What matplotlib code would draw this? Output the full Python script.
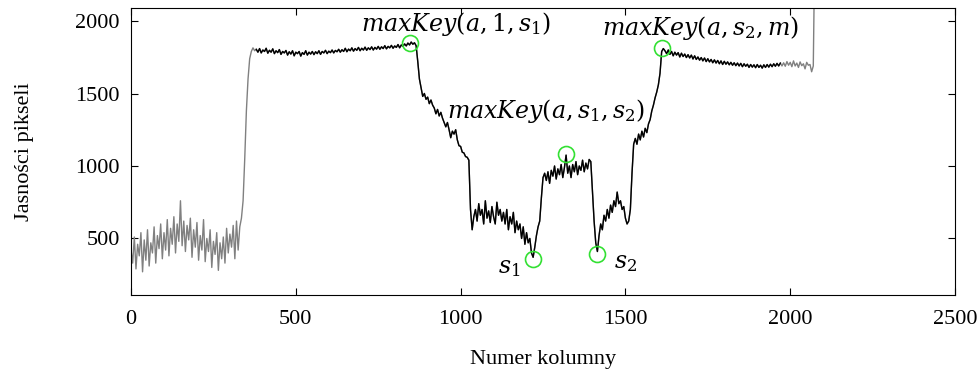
import numpy as np
import matplotlib
matplotlib.use("Agg")
import matplotlib.pyplot as plt

plt.rcParams['font.family'] = ['Liberation Serif', 'DejaVu Serif']
plt.rcParams['mathtext.fontset'] = 'dejavuserif'

# jasnosc pikseli co 5 kolumn (odcinkami)
krok = 5

tlo_lewe = [  # od kolumny 0
    420, 330, 510, 290, 460, 380, 540, 270, 490, 350,
    560, 310, 470, 400, 580, 330, 520, 430, 600, 360,
    540, 420, 630, 380, 570, 460, 650, 400, 600, 480,
    760, 450, 620, 410, 590, 490, 640, 370, 560, 440,
    610, 350, 520, 420, 630, 340, 500, 410, 560, 300,
    480, 390, 540, 280, 470, 360, 510, 330, 570, 400,
    530, 440, 590, 360, 620, 420, 580, 640,
    760, 1050, 1380, 1600, 1740, 1790, 1815, 1795,
]
plateau_lewe = [  # od kolumny 380
    1805, 1785, 1810, 1780, 1800, 1790, 1812, 1778, 1798, 1785,
    1808, 1775, 1795, 1782, 1803, 1770, 1790, 1780, 1797, 1765,
    1788, 1772, 1795, 1760, 1785, 1775, 1790, 1758, 1782, 1770,
    1795, 1765, 1785, 1772, 1790, 1768, 1788, 1775, 1795, 1770,
    1790, 1780, 1798, 1775, 1792, 1782, 1800, 1780, 1797, 1788,
    1805, 1785, 1802, 1790, 1812, 1788, 1806, 1795, 1815, 1792,
    1810, 1798, 1818, 1795, 1812, 1800, 1820, 1798, 1815, 1803,
    1822, 1800, 1818, 1806, 1825, 1805, 1822, 1810, 1830, 1808,
    1825, 1815, 1832, 1812, 1828, 1818, 1838, 1815, 1835, 1825,
    1842, 1828, 1848, 1835, 1855, 1840, 1850, 1830,
]
spadek = [  # od kolumny 870
    1720, 1600, 1540, 1480, 1500, 1460, 1475, 1430, 1455, 1420,
    1400, 1360, 1390, 1345, 1370, 1330, 1300, 1270, 1300, 1250,
    1195, 1240, 1220, 1250, 1180, 1140, 1135, 1095, 1090, 1065,
    1060, 1040,
]
dolina_1 = [  # od kolumny 1030
    700, 560, 650, 700, 620, 740, 660, 700, 600, 760,
    640, 690, 610, 720, 650, 600, 750, 660, 700, 620,
    680, 600, 700, 560, 650, 600, 680, 540, 620, 560,
    600, 500, 580, 460, 540, 470, 500, 400, 370, 440,
    520, 580, 620, 780,
]
srodek = [  # od kolumny 1250
    920, 950, 900, 960, 880, 970, 930, 1000, 910, 980,
    940, 1010, 920, 990, 1075, 950, 1000, 920, 1010, 960,
    1030, 940, 1000, 970, 1040, 960, 1020, 980, 1045, 1030,
]
dolina_2 = [  # od kolumny 1400
    820, 620, 470, 410, 520, 600, 560, 660, 620, 700,
    640, 730, 680, 760, 720, 820, 740, 760, 700, 720,
    640, 600, 620, 700, 950, 1150, 1190, 1150, 1220, 1180,
    1240, 1200, 1260, 1230, 1290, 1320, 1380, 1420, 1470, 1510,
    1560, 1640, 1790, 1810,
]
plateau_prawe = [  # od kolumny 1620
    1795, 1775, 1800, 1770, 1790, 1760, 1785, 1765, 1782, 1752,
    1778, 1755, 1772, 1748, 1768, 1745, 1765, 1738, 1760, 1735,
    1752, 1730, 1748, 1725, 1745, 1720, 1740, 1718, 1735, 1712,
    1732, 1710, 1728, 1705, 1725, 1700, 1722, 1702, 1718, 1698,
    1715, 1695, 1712, 1692, 1710, 1690, 1708, 1685, 1705, 1688,
    1702, 1680, 1700, 1682, 1698, 1678, 1700, 1680, 1695, 1675,
    1698, 1680, 1700, 1682, 1702, 1685, 1705, 1688, 1708, 1690,
    1710,
]
tlo_prawe = [  # od kolumny 1975
    1690, 1712, 1688, 1720, 1695, 1715, 1685, 1725, 1690, 1710,
    1680, 1718, 1692, 1705, 1670, 1715, 1695, 1700, 1650, 1690,
    2600,
]
odcinki = [(0, tlo_lewe), (380, plateau_lewe), (870, spadek), (1030, dolina_1),
           (1250, srodek), (1400, dolina_2), (1620, plateau_prawe), (1975, tlo_prawe)]

kolumny = np.concatenate([start + krok * np.arange(len(v)) for start, v in odcinki])
jasnosc = np.concatenate([np.array(v) for _, v in odcinki])

# fragment zaznaczony na czarno
czarny_od = 380
czarny_do = 1970

# punkty kluczowe (kółka)
klucz_x = [847, 1220, 1320, 1414, 1610]
klucz_y = [1848, 359, 1083, 393, 1814]

fig = plt.figure(figsize=(9.8, 3.8), dpi=100)
ax = fig.add_axes([0.1337, 0.2237, 0.8408, 0.7553])

ax.plot(kolumny, jasnosc, color='#808080', lw=1.0)
m = (kolumny >= czarny_od) & (kolumny <= czarny_do)
ax.plot(kolumny[m], jasnosc[m], color='black', lw=1.0)

ax.plot(klucz_x, klucz_y, 'o', ms=11.5, mfc='none', mec='#33e033', mew=1.2)

fs = 17
ax.text(986, 1980, r'$maxKey(a,1,s_1)$', fontsize=fs, ha='center', va='center')
ax.text(1259, 1380, r'$maxKey(a,s_1,s_2)$', fontsize=fs, ha='center', va='center')
ax.text(1728, 1955, r'$maxKey(a,s_2,m)$', fontsize=fs, ha='center', va='center')
ax.text(1147, 290, r'$s_1$', fontsize=fs, ha='center', va='center')
ax.text(1499, 325, r'$s_2$', fontsize=fs, ha='center', va='center')

ax.set_xlim(0, 2500)
ax.set_ylim(110, 2090)
ax.set_xticks([0, 500, 1000, 1500, 2000, 2500])
ax.set_yticks([500, 1000, 1500, 2000])
ax.tick_params(direction='in', top=True, right=True, length=5, labelsize=16)
ax.tick_params(axis='x', pad=11)
ax.tick_params(axis='y', pad=8)
ax.set_xlabel('Numer kolumny', fontsize=16, labelpad=15)
ax.set_ylabel('Jasności pikseli', fontsize=16, labelpad=30)

fig.savefig('out.png', dpi=100)
